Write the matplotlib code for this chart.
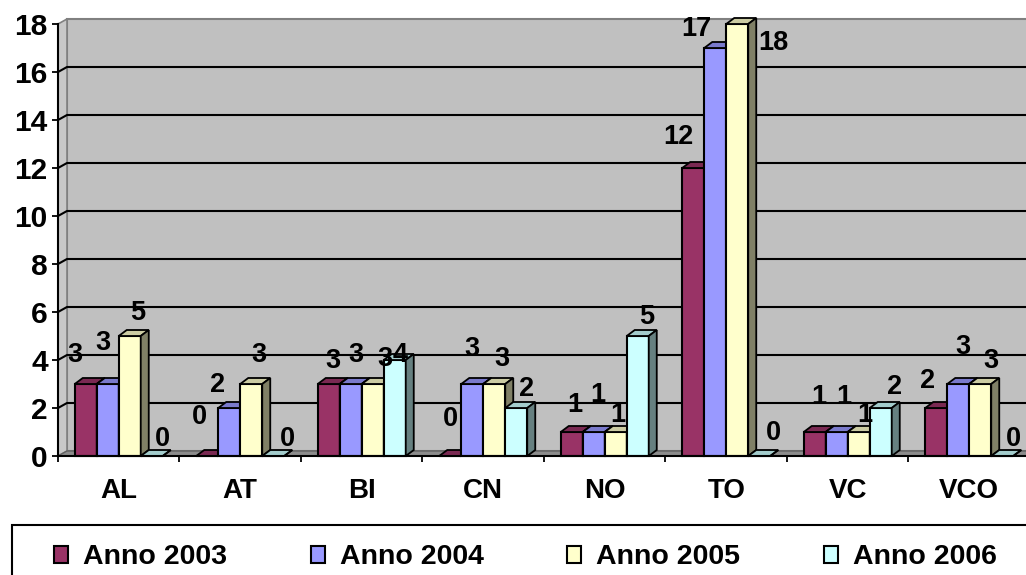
import matplotlib
matplotlib.use("Agg")
import matplotlib.pyplot as plt
from matplotlib.patches import Polygon, Rectangle
from matplotlib.colors import to_rgb
import numpy as np

# ---- data -------------------------------------------------------------
provinces = ["AL", "AT", "BI", "CN", "NO", "TO", "VC", "VCO"]
series_names = ["Anno 2003", "Anno 2004", "Anno 2005", "Anno 2006"]
anno_2003 = [3, 0, 3, 0, 1, 12, 1, 2]
anno_2004 = [3, 2, 3, 3, 1, 17, 1, 3]
anno_2005 = [5, 3, 3, 3, 1, 18, 1, 3]
anno_2006 = [0, 0, 4, 2, 5, 0, 2, 0]
y_ticks = [0, 2, 4, 6, 8, 10, 12, 14, 16, 18]

series_values = [anno_2003, anno_2004, anno_2005, anno_2006]

# ---- styling ----------------------------------------------------------
face_colors = ["#993366", "#9999FF", "#FFFFCC", "#CCFFFF"]
wall_color = "#C0C0C0"
wall_edge = "#808080"
floor_color = "#8C8C8C"

# per-label placement tweaks (pixels right / pixels down from bar top centre)
label_nudge_px = [
    [(-11, -32), (-5, -44), (8, -26), (11, -19)],   # AL
    [(-8, -41), (-12, -25), (8, -31), (14, -20)],   # AT
    [(4, -25), (5, -31), (12, -27), (5, -7)],       # BI
    [(0, -40), (0, -37), (8, -27), (10, -21)],      # CN
    [(3, -29), (4, -40), (2, -20), (9, -22)],       # NO
    [(-15, -33), (-19, -21), (36, 16), (14, -26)],  # TO
    [(4, -37), (7, -37), (6, -20), (14, -23)],      # VC
    [(-9, -30), (5, -40), (11, -26), (11, -19)],    # VCO
]

plt.rcParams["font.family"] = ["Liberation Sans", "DejaVu Sans"]
plt.rcParams["font.weight"] = "bold"

W, H, DPI = 1026, 575, 100
fig = plt.figure(figsize=(W / DPI, H / DPI), dpi=DPI)
fig.patch.set_facecolor("white")

n_cat = len(provinces)
ax = fig.add_axes([58 / W, 1 - 456 / H, (n_cat * 121.5) / W, 432 / H])
ax.set_xlim(-0.5, n_cat - 0.5)
ax.set_ylim(0, 18)
ax.patch.set_visible(False)

# pixel size of one data unit, used for the pseudo-3D depth
bbox = ax.get_window_extent()
sx = bbox.width / n_cat
sy = bbox.height / 18.0

def px_x(p):
    return p / sx

def px_y(p):
    return p / sy

# wall / floor depth and bar depth
wdx, wdy = px_x(9), px_y(5)
bdx, bdy = px_x(8), px_y(6)

x0, x1 = -0.5, n_cat - 0.5 + 0.5
# back wall
ax.add_patch(Rectangle((x0 + wdx, wdy), x1 - x0, 18, facecolor=wall_color,
                       edgecolor=wall_edge, lw=1.5, zorder=0.5, clip_on=False))
# left side wall
ax.add_patch(Polygon([(x0, 0), (x0, 18), (x0 + wdx, 18 + wdy), (x0 + wdx, wdy)],
                     closed=True, facecolor="#C8C8C8", edgecolor=wall_edge,
                     lw=1.2, zorder=0.55, clip_on=False))
# floor
ax.add_patch(Polygon([(x0, 0), (x1, 0), (x1 + wdx, wdy), (x0 + wdx, wdy)],
                     closed=True, facecolor=floor_color, edgecolor="#606060",
                     lw=1.0, zorder=0.6, clip_on=False))
# gridlines across side wall and back wall
for v in y_ticks[1:-1]:
    ax.plot([x0, x0 + wdx, x1 + wdx], [v, v + wdy, v + wdy], color="black",
            lw=1.5, zorder=0.7, clip_on=False, solid_capstyle="butt")

# ---- bars -------------------------------------------------------------
bw = px_x(22)
n_ser = len(series_values)

def shade(c, f):
    r, g, b = to_rgb(c)
    return (r * f, g * f, b * f)

for k in range(n_cat):
    for i in range(n_ser):
        v = series_values[i][k]
        xc = k + (i - (n_ser - 1) / 2) * bw
        xl, xr = xc - bw / 2, xc + bw / 2
        z = 2 + 0.01 * (k * n_ser + i)
        col = face_colors[i]
        ax.bar(xc, v, width=bw, color=col, edgecolor="black", lw=1.5,
               zorder=z, clip_on=False)
        ax.add_patch(Polygon([(xl, v), (xr, v), (xr + bdx, v + bdy), (xl + bdx, v + bdy)],
                             closed=True, facecolor=shade(col, 0.8),
                             edgecolor="black", lw=1.3, zorder=z + 0.001,
                             clip_on=False))
        ax.add_patch(Polygon([(xr, 0), (xr, v), (xr + bdx, v + bdy), (xr + bdx, bdy)],
                             closed=True, facecolor=shade(col, 0.5),
                             edgecolor="black", lw=1.3, zorder=z + 0.002,
                             clip_on=False))
        ndx, ndy = label_nudge_px[k][i]
        ax.annotate(str(v), (xc, v), xytext=(ndx * 0.72, -(ndy + 9.5) * 0.72),
                    textcoords="offset points", ha="center", va="baseline",
                    fontsize=19.5, fontweight="bold", color="black", zorder=10,
                    annotation_clip=False)

# ---- axes -------------------------------------------------------------
for side in ("top", "right"):
    ax.spines[side].set_visible(False)
for side in ("left", "bottom"):
    ax.spines[side].set_color("black")
    ax.spines[side].set_linewidth(1.5)

ax.set_yticks(y_ticks, [str(t) for t in y_ticks], fontsize=21.5, fontweight="bold")
ax.tick_params(axis="y", direction="out", length=4.3, width=1.3, pad=3.0)

ax.set_xticks(np.arange(-0.5, n_cat, 1.0), [""] * (n_cat + 1))
ax.set_xticks(np.arange(n_cat), provinces, minor=True, fontsize=20, fontweight="bold")
ax.tick_params(axis="x", which="major", direction="out", length=4.3, width=1.3)
ax.tick_params(axis="x", which="minor", length=0, pad=16)

# ---- legend -----------------------------------------------------------
fig.add_artist(Rectangle((12 / W, -0.05), 1.2, 1 - 525 / H + 0.05,
                         transform=fig.transFigure, facecolor="white",
                         edgecolor="black", lw=1.5))
item_step = 256.7
for i, name in enumerate(series_names):
    left = 54 + i * item_step
    fig.add_artist(Rectangle((left / W, 1 - 563 / H), 14 / W, 17 / H,
                             transform=fig.transFigure, facecolor=face_colors[i],
                             edgecolor="black", lw=1.5))
    fig.text((left + 29) / W, 1 - 564 / H, name, fontsize=20.5, fontweight="bold",
             ha="left", va="baseline")

fig.savefig("out.png", dpi=DPI)
